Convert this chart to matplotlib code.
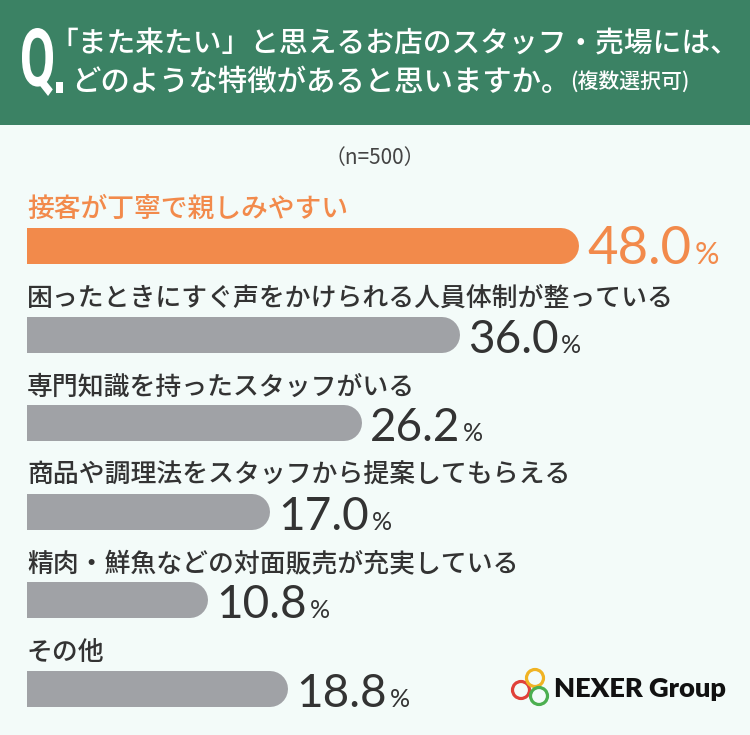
import matplotlib
matplotlib.use("Agg")
import matplotlib.pyplot as plt
from matplotlib.patches import Rectangle, Circle, PathPatch
from matplotlib.textpath import TextPath
from matplotlib.font_manager import FontProperties
from matplotlib.transforms import Affine2D

# ----------------------------
# Data
# ----------------------------
QUESTION_1 = "「また来たい」と思えるお店のスタッフ・売場には、"
QUESTION_2 = "どのような特徴があると思いますか。"
QUESTION_NOTE = "(複数選択可)"
SAMPLE = "（n=500）"

labels = [
    "接客が丁寧で親しみやすい",
    "困ったときにすぐ声をかけられる人員体制が整っている",
    "専門知識を持ったスタッフがいる",
    "商品や調理法をスタッフから提案してもらえる",
    "精肉・鮮魚などの対面販売が充実している",
    "その他",
]
values = [48.0, 36.0, 26.2, 17.0, 10.8, 18.8]

# ----------------------------
# Style
# ----------------------------
W, H = 750, 735
GREEN = "#3B8264"
BG = "#F3FBF9"
ORANGE = "#F28A4B"
GRAY = "#A0A2A6"
DARK = "#333333"
JP = ["Noto Sans CJK JP", "DejaVu Sans"]
NUM = ["Lato", "DejaVu Sans"]

BAR_START = -7.4       # data value at the left edge of the bars
PX_PER_UNIT = 9.97     # horizontal scale of the bar axes
BAR_PX = 36            # bar thickness in pixels
ROW_PX = 88.6          # row pitch in pixels
FIRST_ROW_Y = 246      # centre of the first bar (pixels from top)

plt.rcParams["font.family"] = JP

fig = plt.figure(figsize=(W / 100, H / 100), dpi=100)
fig.patch.set_facecolor(BG)

# background canvas in pixel coordinates
bg = fig.add_axes([0, 0, 1, 1])
bg.set_xlim(0, W)
bg.set_ylim(H, 0)
bg.axis("off")
bg.add_patch(Rectangle((0, 0), W, 125, color=GREEN, lw=0))

# big condensed "Q."
qpath = TextPath((0, 0), "Q", size=100, prop=FontProperties(family="Roboto", weight="bold"))
ext = qpath.get_extents()
qt = (Affine2D().translate(-ext.x0, -ext.y0)
      .scale(31 / ext.width, -68 / ext.height)
      .translate(22, 96))
bg.add_patch(PathPatch(qpath, transform=qt + bg.transData, fc="white", lw=0))
bg.add_patch(Rectangle((56, 82), 7, 11, color="white", lw=0))

bg.text(49, 44, QUESTION_1, color="white", fontsize=20.7, fontweight="medium",
        va="center", ha="left")
qt2 = bg.text(71, 82, QUESTION_2, color="white", fontsize=21.2, fontweight="medium",
              va="center", ha="left")
bg.annotate(QUESTION_NOTE, xy=(1, 0.5), xycoords=qt2, xytext=(0, 0), textcoords="offset points",
            color="white", fontsize=15, fontweight="medium", va="center", ha="left")

bg.text(375, 158, SAMPLE, color="#444444", fontsize=15, ha="center", va="center")

# logo
for (cx, cy), col in zip([(521, 690), (535, 678), (539, 696)], ["#E0413A", "#F0B323", "#4CAF50"]):
    bg.add_patch(Circle((cx, cy), 8.5, fill=False, ec=col, lw=2.3))
bg.text(554, 689, "NEXER Group", fontsize=19.6, fontweight="heavy", color="#111111",
        family=NUM, va="center", ha="left")

# ----------------------------
# Bars
# ----------------------------
n = len(values)
top_px = FIRST_ROW_Y - ROW_PX / 2
bot_px = FIRST_ROW_Y + ROW_PX * (n - 0.5)
ax = fig.add_axes([27 / W, 1 - bot_px / H, (W - 27) / W, (bot_px - top_px) / H])
ax.set_xlim(BAR_START, BAR_START + (W - 27) / PX_PER_UNIT)
ax.set_ylim(n - 0.5, -0.5)
ax.axis("off")
ax.patch.set_alpha(0)

lw_pt = BAR_PX * 0.72
cap = (BAR_PX / 2) / PX_PER_UNIT
half = BAR_PX / 2 / ROW_PX

for i, (lab, v) in enumerate(zip(labels, values)):
    top = i == 0
    col = ORANGE if top else GRAY
    tcol = ORANGE if top else DARK
    ax.plot([BAR_START - 5, v - cap], [i, i], color=col, lw=lw_pt,
            solid_capstyle="round", clip_on=True)
    ax.text(BAR_START, i - 0.41, lab, color=tcol, fontsize=19.3 if top else 18.6,
            fontweight="medium", va="center", ha="left")
    t = ax.text(v + 0.8, i + half, f"{v:.1f}", color=tcol, fontsize=38 if top else 33,
                family=NUM, va="baseline", ha="left")
    ax.annotate("%", xy=(1, i + half), xycoords=(t, "data"), xytext=(2, 0),
                textcoords="offset points", color=tcol, fontsize=22 if top else 18,
                family=NUM, va="baseline", ha="left")

fig.savefig("out.png", dpi=100, facecolor=BG)
